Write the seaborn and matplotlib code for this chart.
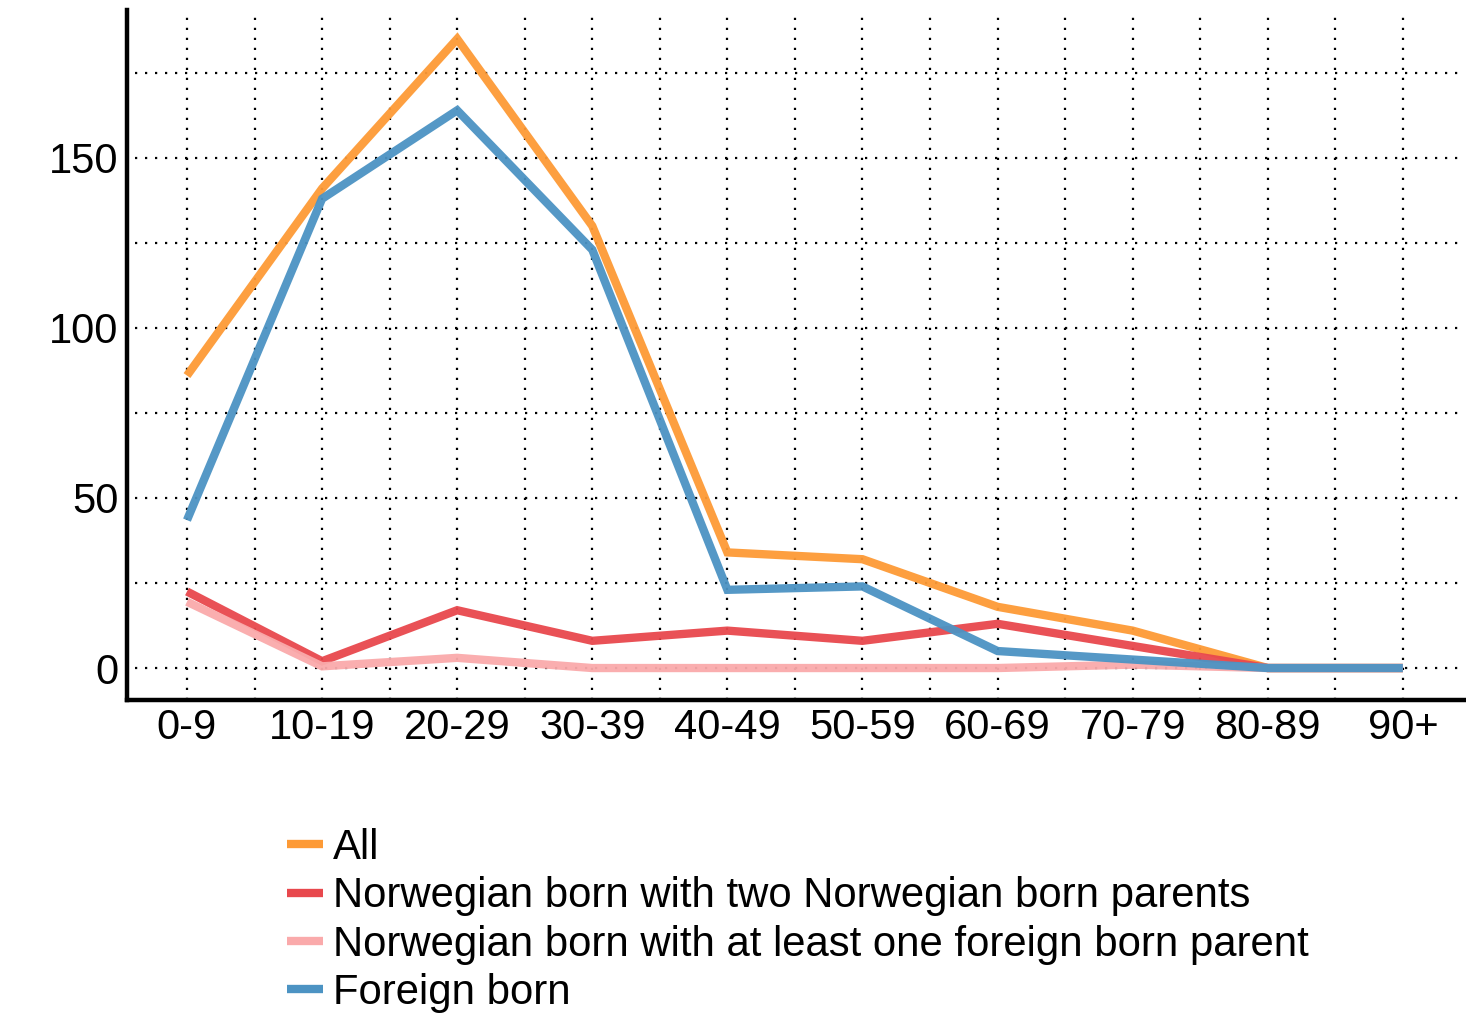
import pandas as pd
import seaborn as sns
import matplotlib.pyplot as plt

age_groups = ["0-9", "10-19", "20-29", "30-39", "40-49", "50-59", "60-69", "70-79", "80-89", "90+"]
all_vals = [86, 141, 185, 130, 34, 32, 18, 11, 0, 0]
norw_two = [22.5, 2, 17, 8, 11, 8, 13, 6.5, 0, 0]
norw_foreign = [19.5, 0.5, 3, 0, 0, 0, 0, 1, 0, 0]
foreign = [43.5, 138, 164, 123, 23, 24, 5, 2.5, 0, 0]

series_names = [
    "All",
    "Norwegian born with two Norwegian born parents",
    "Norwegian born with at least one foreign born parent",
    "Foreign born",
]
series_colors = ["#FD9A36", "#E8484D", "#FAAAAB", "#4C93C3"]

rows = []
for name, vals in zip(series_names, [all_vals, norw_two, norw_foreign, foreign]):
    for i, v in enumerate(vals):
        rows.append({"pos": i, "value": v, "series": name})
df = pd.DataFrame(rows)

sns.set_style("white")
plt.rcParams["font.family"] = ["Liberation Sans", "DejaVu Sans"]
plt.rcParams["text.color"] = "black"

fig = plt.figure(figsize=(14.66, 10.34), dpi=100)
ax = fig.add_axes([127 / 1466, 1 - 700 / 1034, (1465 - 127) / 1466, 690 / 1034])

sns.lineplot(data=df, x="pos", y="value", hue="series", hue_order=series_names,
             palette=series_colors, linewidth=6, alpha=0.95, ax=ax, legend=False,
             solid_joinstyle="miter", solid_capstyle="butt")

# dotted grid at half-category and 25-unit steps
dots = dict(color="black", linewidth=1.6, linestyle=(0, (1, 3.5)), zorder=0)
for k in range(0, 19):
    ax.axvline(k * 0.5, ymin=0, ymax=1, **dots)
for yv in range(0, 200, 25):
    ax.axhline(yv, xmin=0.006, xmax=1, **dots)

ax.set_xlim(-0.444, 9.46)
ax.set_ylim(-9.4, 193.5)
ax.set_xticks(range(len(age_groups)))
ax.set_xticklabels(age_groups)
ax.set_yticks([0, 50, 100, 150])
ax.tick_params(axis="both", length=0, labelsize=30, pad=6, labelcolor="black")
ax.set_xlabel("")
ax.set_ylabel("")

for side in ["top", "right"]:
    ax.spines[side].set_visible(False)
for side in ["left", "bottom"]:
    ax.spines[side].set_color("black")
    ax.spines[side].set_linewidth(3.2)

handles = [plt.Line2D([], [], color=c, linewidth=6, solid_capstyle="butt") for c in series_colors]
fig.legend(handles, series_names, loc="upper left", bbox_to_anchor=(287 / 1466, 1 - 828 / 1034),
           frameon=False, fontsize=30.2, handlelength=0.85, handletextpad=0.25,
           labelspacing=0.2, borderpad=0, borderaxespad=0)

fig.savefig("out.png", dpi=100)
